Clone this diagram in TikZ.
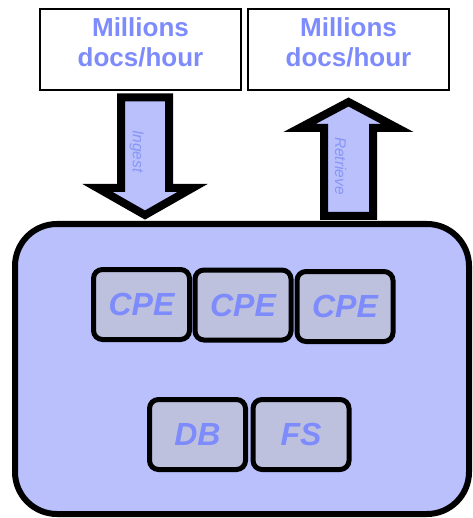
\documentclass[tikz,border=0pt]{standalone}
\usepackage{fontspec}
\setmainfont{Liberation Sans}
\definecolor{sysfill}{RGB}{185,192,252}
\definecolor{unitfill}{RGB}{189,193,221}
\definecolor{testo}{RGB}{125,139,252}
\definecolor{testochiaro}{RGB}{136,150,246}
\begin{document}
\begin{tikzpicture}[x=1pt, y=-1pt,
        fonte/.style={draw, line width=1.3pt, fill=white, minimum width=201pt, minimum height=81pt, inner sep=0pt},
        titolo/.style={text=testo, font=\fontsize{26}{30}\selectfont\bfseries, align=center},
        sistema/.style={draw, line width=6pt, fill=sysfill, rounded corners=42pt, minimum width=454pt, minimum height=290pt},
        unita/.style={draw, line width=5pt, fill=unitfill, rounded corners=9pt, minimum width=96pt, minimum height=70pt, inner sep=0pt, text=testo, font=\fontsize{32}{36}\selectfont\bfseries\itshape},
        freccia/.style={draw, line width=8pt, fill=sysfill, miter limit=10},
        verso/.style={text=testochiaro, font=\fontsize{15.5}{18}\selectfont\itshape, rotate=-90}]
        \useasboundingbox (0,0) rectangle (472,518);

        % Sistema
        \node[sistema] (sys) at (242,369) {};

        % Unita' interne
        \foreach \nome/\x/\y/\testo in {cpeA/141.5/304.5/CPE, cpeB/243/305/CPE, cpeC/345/306.5/CPE, db/197.5/434.5/DB, fs/301/434.5/FS}{
            \node[unita] (\nome) at (\x,\y) {\testo};
        }

        % Frecce
        \draw[freccia] (121,97.5) -- (169,97.5) -- (169,188) -- (192.5,188) -- (145,215) -- (97.5,188) -- (121,188) -- cycle;
        \node[verso] (ingest) at (136.7,151.5) {Ingest};
        \draw[freccia] (324,216) -- (373,216) -- (373,128) -- (397.5,128) -- (348.5,102) -- (299.5,128) -- (324,128) -- cycle;
        \node[verso] (retrieve) at (340.6,166) {Retrieve};

        % Sorgenti
        \node[fonte] (srcL) at (140.5,49.5) {};
        \node[fonte] (srcR) at (348.5,49.5) {};
        \node[titolo] (txtL) at (140.5,42.7) {Millions\\docs/hour};
        \node[titolo] (txtR) at (348.5,42.7) {Millions\\docs/hour};
\end{tikzpicture}
\end{document}
